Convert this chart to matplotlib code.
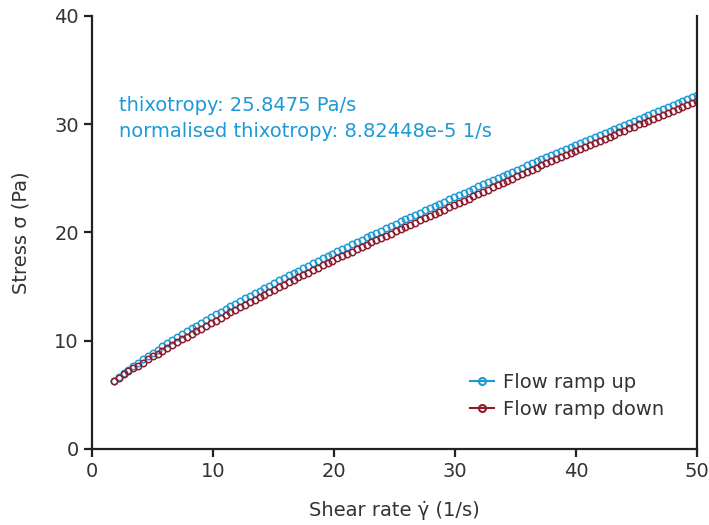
import numpy as np
import matplotlib
matplotlib.use("Agg")
import matplotlib.pyplot as plt
from matplotlib.lines import Line2D

# shear rate ramp (1/s), same grid for up and down
shear_rate = np.linspace(1.8, 50, 121)

stress_up = [6.29,6.65,7.00,7.34,7.67,7.99,8.30,8.60,8.90,9.19,9.48,9.77,10.05,10.32,10.60,10.87,11.14,11.40,11.66,11.92,
             12.18,12.43,12.68,12.93,13.18,13.43,13.67,13.91,14.15,14.39,14.63,14.87,15.10,15.34,15.57,15.80,16.03,16.26,16.48,16.71,
             16.93,17.16,17.38,17.60,17.82,18.04,18.26,18.48,18.69,18.91,19.12,19.34,19.55,19.76,19.97,20.18,20.39,20.60,20.81,21.02,
             21.22,21.43,21.63,21.84,22.04,22.25,22.45,22.65,22.85,23.05,23.25,23.45,23.65,23.85,24.05,24.25,24.44,24.64,24.84,25.03,
             25.23,25.42,25.61,25.81,26.00,26.19,26.38,26.58,26.77,26.96,27.15,27.34,27.53,27.71,27.90,28.09,28.28,28.46,28.65,28.84,
             29.02,29.21,29.39,29.58,29.76,29.95,30.13,30.31,30.50,30.68,30.86,31.04,31.22,31.40,31.59,31.77,31.95,32.13,32.30,32.48,32.66]
stress_down = [6.29,6.60,6.89,7.18,7.45,7.71,7.99,8.27,8.55,8.82,9.09,9.36,9.62,9.87,10.13,10.38,10.62,10.87,11.11,11.37,
               11.62,11.87,12.12,12.36,12.61,12.85,13.09,13.33,13.57,13.80,14.04,14.27,14.50,14.73,14.96,15.19,15.41,15.64,15.86,16.08,
               16.30,16.52,16.74,16.96,17.17,17.39,17.60,17.82,18.03,18.24,18.45,18.66,18.87,19.08,19.29,19.49,19.70,19.90,20.11,20.31,
               20.51,20.72,20.92,21.12,21.32,21.52,21.72,21.91,22.11,22.31,22.51,22.71,22.92,23.13,23.34,23.54,23.75,23.96,24.16,24.37,
               24.57,24.78,24.98,25.19,25.39,25.59,25.79,25.99,26.19,26.40,26.60,26.79,26.98,27.17,27.36,27.55,27.74,27.93,28.11,28.30,
               28.49,28.68,28.86,29.05,29.24,29.42,29.61,29.79,29.98,30.16,30.34,30.53,30.71,30.89,31.08,31.26,31.44,31.62,31.80,31.98,32.16]

blue = '#1d9ad6'
red = '#8c1c2c'
ink = '#333333'

plt.rcParams['font.family'] = 'DejaVu Sans'
plt.rcParams['font.size'] = 14

fig = plt.figure(figsize=(7.09, 5.25), dpi=100)
ax = fig.add_axes([92/709, 1-449/525, 605/709, 433/525])

ax.plot(shear_rate, stress_up, 'o', ms=4.6, mfc='none', mec=blue, mew=1.1, label='Flow ramp up')
ax.plot(shear_rate, stress_down, 'o', ms=4.6, mfc='none', mec=red, mew=1.1, label='Flow ramp down')

ax.set_xlim(0, 50)
ax.set_ylim(0, 40)
ax.set_xticks([0, 10, 20, 30, 40, 50])
ax.set_yticks([0, 10, 20, 30, 40])
ax.spines['top'].set_visible(False)
for s in ['left', 'bottom', 'right']:
    ax.spines[s].set_linewidth(1.6)
    ax.spines[s].set_color('#222222')
ax.tick_params(direction='out', length=6, width=1.6, color='#222222', labelcolor=ink, labelsize=14)
ax.tick_params(axis='y', right=False)

ax.set_xlabel('Shear rate \u03b3\u0307 (1/s)', color=ink, fontsize=14, labelpad=14)
ax.set_ylabel('Stress \u03c3 (Pa)', color=ink, fontsize=14, labelpad=17)

# thixotropy result text
ax.text(2.2, 31.7, 'thixotropy: 25.8475 Pa/s', color=blue, fontsize=14, va='center')
ax.text(2.2, 29.3, 'normalised thixotropy: 8.82448e-5 1/s', color=blue, fontsize=14, va='center')

handles = [Line2D([], [], color=blue, marker='o', ms=5, mfc='none', mew=1.5, lw=1.5),
           Line2D([], [], color=red, marker='o', ms=5, mfc='none', mew=1.5, lw=1.5)]
ax.legend(handles, ['Flow ramp up', 'Flow ramp down'], loc='lower right', frameon=False,
          bbox_to_anchor=(0.975, 0.03), handlelength=1.2, handletextpad=0.5, labelspacing=0.4,
          fontsize=14, labelcolor=ink)

fig.savefig("out.png")
